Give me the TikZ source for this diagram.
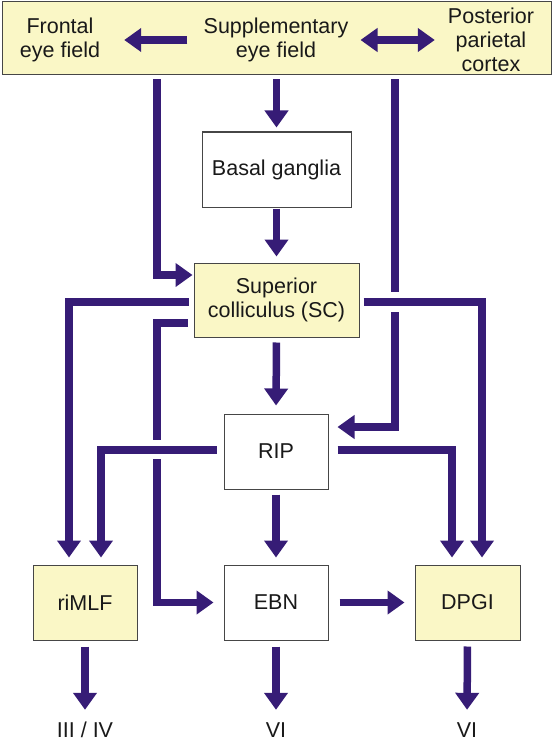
\documentclass[tikz,border=0pt]{standalone}
\usepackage{fontspec}
\setmainfont{Liberation Sans}
\usetikzlibrary{arrows.meta}

\definecolor{pathway}{RGB}{54,28,118}
\definecolor{areafill}{RGB}{250,247,198}
\definecolor{boxline}{RGB}{70,70,70}

\begin{document}
\begin{tikzpicture}[x=1pt, y=-1pt,
    >={Triangle[length=17pt, width=23pt]},
    every node/.style={font=\fontsize{21.5}{24}\selectfont, text=black!90, align=center, inner sep=0pt},
    cellbox/.style={draw=boxline, line width=1pt, fill=white, minimum height=75pt},
    areabox/.style={cellbox, fill=areafill},
    wire/.style={draw=pathway, line width=7.5pt},
    arr/.style={wire, ->, shorten <=5pt, shorten >=7pt},
    tag/.style={text height=15pt, text depth=0pt}]

    \useasboundingbox (0,0) rectangle (554,741);

    % cortical areas
    \node[areabox, minimum width=549pt, minimum height=73pt] (cortexbar) at (276.5,38.5) {};
    \node (fef) at (60,39.5) {Frontal\\eye field};
    \node (sef) at (276,39.5) {Supplementary\\eye field};
    \node (ppc) at (491,39.5) {Posterior\\parietal\\cortex};

    \node[cellbox, minimum width=149pt] (bg) at (276.5,169.5) {Basal ganglia};
    \node[areabox, minimum width=165pt, minimum height=74pt] (sc) at (276.5,300) {Superior\\colliculus (SC)};
    \node[cellbox, minimum width=104pt] (rip) at (276,451.5) {RIP};

    \node[areabox, minimum width=104pt] (rimlf) at (85,602.5) {riMLF};
    \node[cellbox, minimum width=104pt] (ebn) at (276,602.5) {EBN};
    \node[areabox, minimum width=105pt] (dpgi) at (467.5,602.5) {DPGI};

    \node[tag] (nIII) at (85,729.5) {III / IV};
    \node[tag] (nVIa) at (276,729.5) {VI};
    \node[tag] (nVIb) at (467,729.5) {VI};

    % lanes and rows of the pathways
    \coordinate (laneA) at (69,0);
    \coordinate (laneB) at (101,0);
    \coordinate (laneC) at (157,0);
    \coordinate (laneD) at (395,0);
    \coordinate (laneE) at (452,0);
    \coordinate (laneF) at (482,0);
    \coordinate (rowbar) at (0,40);
    \coordinate (rowin) at (0,275);
    \coordinate (rowsc1) at (0,302);
    \coordinate (rowsc2) at (0,323);
    \coordinate (rowripin) at (0,427);
    \coordinate (rowrip) at (0,450);
    \coordinate (dcut1) at (395,292);
    \coordinate (dcut2) at (395,312);
    \coordinate (ccut1) at (157,440);
    \coordinate (ccut2) at (157,459);

    \draw[wire, ->, shorten <=16pt, shorten >=24pt] (sef.west |- rowbar) -- (fef.east |- rowbar);
    \draw[wire, <->, shorten <=12pt, shorten >=13pt] (sef.east |- rowbar) -- (ppc.west |- rowbar);

    \draw[arr, shorten <=4pt, shorten >=4pt] (bg.north |- cortexbar.south) -- (bg.north);
    \draw[arr, shorten <=1pt, shorten >=6pt] (bg.south) -- (sc.north);
    \draw[arr, shorten <=4pt, shorten >=1pt] (cortexbar.south -| laneC) |- (sc.west |- rowin);
    \draw[wire, shorten <=4pt] (cortexbar.south -| laneD) -- (dcut1);
    \draw[arr, shorten <=0pt, shorten >=9pt] (dcut2) |- (rip.east |- rowripin);

    \draw[arr] (sc.west |- rowsc1) -| (rimlf.north -| laneA);
    \draw[wire, shorten <=6pt] (sc.west |- rowsc2) -| (ccut1);
    \draw[arr, shorten <=0pt, shorten >=10pt] (ccut2) |- (ebn.west);
    \draw[arr, shorten <=4pt] (sc.east |- rowsc1) -| (dpgi.north -| laneF);
    \draw[arr, shorten >=8pt] (sc.south) -- (rip.north);

    \draw[arr, shorten <=7pt] (rip.west |- rowrip) -| (rimlf.north -| laneB);
    \draw[arr, shorten <=9pt] (rip.east |- rowrip) -| (dpgi.north -| laneE);
    \draw[arr] (rip.south) -- (ebn.north);
    \draw[arr, shorten <=11pt, shorten >=10pt] (ebn.east) -- (dpgi.west);

    \draw[arr, shorten <=6pt, shorten >=12pt] (rimlf.south) -- (nIII.north);
    \draw[arr, shorten <=6pt, shorten >=12pt] (ebn.south) -- (nVIa.north);
    \draw[arr, shorten <=6pt, shorten >=12pt] (dpgi.south) -- (nVIb.north);
\end{tikzpicture}
\end{document}
